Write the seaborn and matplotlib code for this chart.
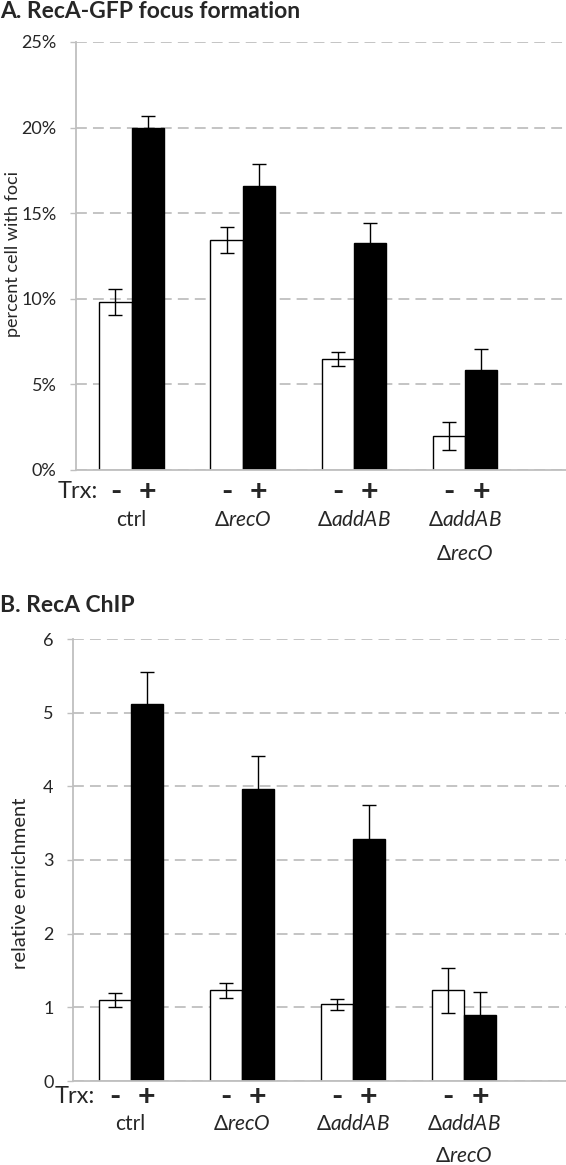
import matplotlib
matplotlib.use("Agg")
import matplotlib.pyplot as plt
import seaborn as sns
import pandas as pd
from matplotlib.transforms import blended_transform_factory
from matplotlib.ticker import FuncFormatter, MultipleLocator

# ---------------- data ----------------
groups = ["ctrl", "ΔrecO", "ΔaddAB", "ΔaddAB ΔrecO"]
group_labels = ["ctrl", "Δ$\\mathit{recO}$", "Δ$\\mathit{addAB}$",
                "Δ$\\mathit{addAB}$\nΔ$\\mathit{recO}$"]
trx_levels = ["-", "+"]

foci_minus = [9.8, 13.45, 6.5, 1.97]
foci_minus_err = [0.75, 0.75, 0.4, 0.82]
foci_plus = [20.0, 16.6, 13.26, 5.82]
foci_plus_err = [0.7, 1.25, 1.17, 1.25]

chip_minus = [1.10, 1.23, 1.04, 1.23]
chip_minus_err = [0.10, 0.10, 0.07, 0.31]
chip_plus = [5.12, 3.96, 3.29, 0.89]
chip_plus_err = [0.43, 0.45, 0.45, 0.32]

titles = ["A. RecA-GFP focus formation", "B. RecA ChIP"]
ylabels = ["percent cell with foci", "relative enrichment"]


def make_df(minus, minus_err, plus, plus_err):
    rows = []
    for g, v, e in zip(groups, minus, minus_err):
        rows.append({"group": g, "trx": "-", "value": v, "err": e})
    for g, v, e in zip(groups, plus, plus_err):
        rows.append({"group": g, "trx": "+", "value": v, "err": e})
    return pd.DataFrame(rows)


df_a = make_df(foci_minus, foci_minus_err, foci_plus, foci_plus_err)
df_b = make_df(chip_minus, chip_minus_err, chip_plus, chip_plus_err)

# ---------------- style ----------------
sns.set_style("white")
plt.rcParams["font.family"] = ["Lato", "DejaVu Sans"]
plt.rcParams["mathtext.fontset"] = "custom"
plt.rcParams["mathtext.rm"] = "Lato"
plt.rcParams["mathtext.it"] = "Lato:italic"
plt.rcParams["mathtext.bf"] = "Lato:bold"

GRID = "#bfbfbf"
W, H = 566, 1165
fig = plt.figure(figsize=(W / 100, H / 100), dpi=100)


def px_axes(left, top, right, bottom):
    return fig.add_axes([left / W, 1 - bottom / H, (right - left) / W, (bottom - top) / H])


ax_a = px_axes(76, 42, 566, 470)
ax_b = px_axes(73, 639, 566, 1081)


def draw_panel(ax, df, ymax, step, fmt, xlim, ylabel, label_xy, label_size,
               trx_y, xpad, lspace):
    sns.barplot(data=df, x="group", y="value", hue="trx", order=groups,
                hue_order=trx_levels, palette={"-": "white", "+": "black"},
                edgecolor="black", linewidth=1.0, width=0.58, errorbar=None,
                legend=False, ax=ax, zorder=2)
    tr = blended_transform_factory(ax.transData, ax.transAxes)
    for cont, lvl in zip(ax.containers, trx_levels):
        sub = df[df["trx"] == lvl].set_index("group").loc[groups]
        xs = [b.get_x() + b.get_width() / 2 for b in cont]
        ax.errorbar(xs, sub["value"], yerr=sub["err"], fmt="none",
                    ecolor="black", elinewidth=1.0, capsize=4.8,
                    capthick=1.0, zorder=3)
        for x in xs:
            ax.text(x, trx_y, lvl, transform=tr, ha="center", va="center",
                    fontsize=22, fontweight="bold")
    ax.text(xlim[0] + 0.20, trx_y, "Trx:", transform=tr, ha="right",
            va="center", fontsize=17)

    ax.set_xlim(*xlim)
    ax.set_ylim(0, ymax)
    ax.yaxis.set_major_locator(MultipleLocator(step))
    ax.yaxis.set_major_formatter(FuncFormatter(fmt))
    ax.set_xticks(range(len(groups)))
    ax.set_xticklabels(group_labels, fontsize=15, linespacing=lspace)
    ax.tick_params(axis="x", length=0, pad=xpad)
    ax.tick_params(axis="y", length=4, width=1, color=GRID, labelsize=13,
                   pad=10, direction="out", left=True)
    ax.yaxis.grid(True, linestyle=(0, (6, 3.4)), color=GRID, linewidth=1.3, zorder=0)
    ax.set_axisbelow(True)
    for s in ["top", "right"]:
        ax.spines[s].set_visible(False)
    for s in ["left", "bottom"]:
        ax.spines[s].set_color(GRID)
        ax.spines[s].set_linewidth(1.3)
    ax.set_xlabel("")
    ax.set_ylabel(ylabel, fontsize=label_size)
    ax.yaxis.set_label_coords(*label_xy)


draw_panel(ax_a, df_a, 25, 5, lambda v, p: f"{v:.0f}%", (-0.5, 3.91),
           ylabels[0], (-0.113, 0.505), 13, -0.051, 29, 1.85)
draw_panel(ax_b, df_b, 6, 1, lambda v, p: f"{v:.0f}", (-0.52, 3.92),
           ylabels[1], (-0.09, 0.448), 14.5, -0.036, 24, 1.7)

fig.text(0.0, 1 - 1 / H, titles[0], ha="left", va="top", fontsize=16.5,
         fontweight="bold")
fig.text(0.0, 1 - 595 / H, titles[1], ha="left", va="top", fontsize=16.5,
         fontweight="bold")

fig.savefig("out.png", dpi=100)
